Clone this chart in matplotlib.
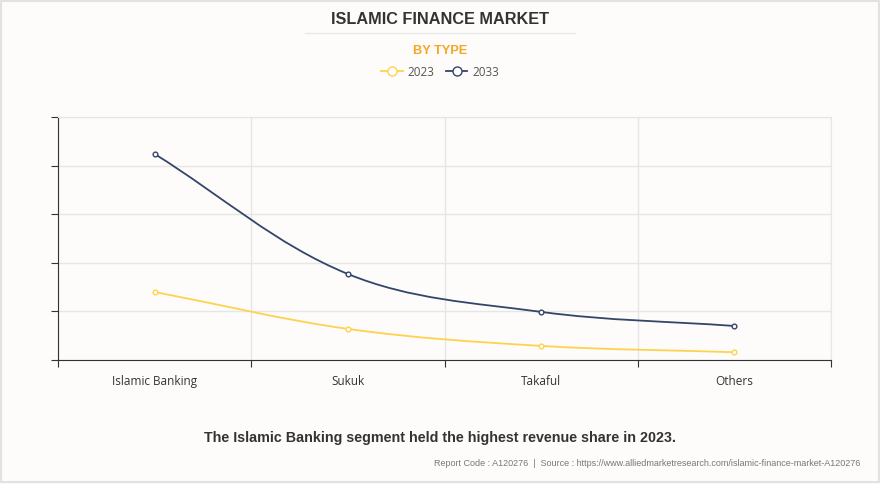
import numpy as np
import matplotlib.pyplot as plt
from matplotlib.path import Path
from matplotlib.patches import PathPatch, Rectangle
from matplotlib.lines import Line2D

categories = ["Islamic Banking", "Sukuk", "Takaful", "Others"]
values_2023 = [1.40, 0.64, 0.29, 0.16]
values_2033 = [4.24, 1.77, 0.99, 0.70]
series = [("2023", values_2023, "#fdd34e"), ("2033", values_2033, "#34456a")]

plt.rcParams["font.family"] = ["Open Sans", "DejaVu Sans"]

fig = plt.figure(figsize=(8.8, 4.84), dpi=100)
fig.patch.set_facecolor("#fdfcfb")
fig.patches.append(Rectangle((0.001, 0.004), 0.998, 0.994, transform=fig.transFigure,
                             fill=False, edgecolor="#e2e2e2", lw=1.5))

ax = fig.add_axes([58 / 880, 1 - 360 / 484, (831 - 58) / 880, (360 - 117) / 484])
ax.set_facecolor("#fdfcfb")
ax.set_xlim(-0.5, 3.5)
ax.set_ylim(0, 5)


def smooth_path(xs, ys, smooth=0.35):
    # bezier like echarts smooth lines, control points worked out in pixels
    pts = ax.transData.transform(np.column_stack([xs, ys]))
    n = len(pts)
    verts = [pts[0]]
    codes = [Path.MOVETO]
    cps = []
    for i in range(n):
        prev = pts[max(i - 1, 0)]
        nxt = pts[min(i + 1, n - 1)]
        cur = pts[i]
        v = (nxt - prev) * smooth
        d0 = np.hypot(*(cur - prev))
        d1 = np.hypot(*(nxt - cur))
        s = d0 + d1 if d0 + d1 > 0 else 1
        cps.append((cur - v * d0 / s, cur + v * d1 / s))
    for i in range(n - 1):
        verts += [cps[i][1], cps[i + 1][0], pts[i + 1]]
        codes += [Path.CURVE4] * 3
    verts = ax.transData.inverted().transform(np.array(verts))
    return Path(verts, codes)


x = np.arange(len(categories))
for label, vals, color in series:
    ax.add_patch(PathPatch(smooth_path(x, vals), fill=False, edgecolor=color, lw=1.3, zorder=3))
    ax.plot(x, vals, ls="none", marker="o", ms=3.4, mfc="white", mec=color, mew=1.0, zorder=4)

ax.set_xticks(np.arange(-0.5, 4, 1))
ax.set_xticklabels([])
ax.set_xticks(x, minor=True)
ax.set_xticklabels(categories, minor=True, fontsize=8.5, color="#333333")
ax.tick_params(axis="x", which="minor", length=0, pad=11)
ax.tick_params(axis="x", which="major", length=5, color="#333333", direction="out")
ax.set_yticks(np.arange(0, 6, 1))
ax.set_yticklabels([])
ax.tick_params(axis="y", length=5, color="#333333", direction="out")
ax.grid(True, which="major", color="#e6e6e6", lw=1)
ax.set_axisbelow(True)
for side in ["top", "right"]:
    ax.spines[side].set_color("#e6e6e6")
for side in ["left", "bottom"]:
    ax.spines[side].set_color("#333333")

fig.text(0.5, 1 - 19 / 484, "ISLAMIC FINANCE MARKET", ha="center", va="center",
         fontsize=11.7, fontweight="bold", color="#333333", family="Liberation Sans")
fig.add_artist(Line2D([305 / 880, 575 / 880], [1 - 33 / 484] * 2, color="#e8e8e8", lw=1))
fig.text(0.5, 1 - 51 / 484, "BY TYPE", ha="center", va="center",
         fontsize=9.2, fontweight="bold", color="#f5a623", family="Liberation Sans")

handles = [Line2D([], [], color=c, lw=1.3, marker="o", ms=6.5, mfc="white", mec=c, mew=1.0)
           for _, _, c in series]
fig.legend(handles, [s[0] for s in series], loc="center", bbox_to_anchor=(0.5, 1 - 72 / 484),
           ncol=2, frameon=False, handlelength=1.8, columnspacing=1.0, handletextpad=0.4,
           prop={"size": 8.5}, labelcolor="#555555")

fig.text(0.5, 1 - 438 / 484, "The Islamic Banking segment held the highest revenue share in 2023.",
         ha="center", va="center", fontsize=10.25, fontweight="bold", color="#333333",
         family="Liberation Sans")
fig.text(860 / 880, 1 - 463 / 484,
         "Report Code : A120276  |  Source : https://www.alliedmarketresearch.com/islamic-finance-market-A120276",
         ha="right", va="center", fontsize=6.5, color="#777777", family="Liberation Sans")

fig.savefig("out.png", dpi=100, facecolor=fig.get_facecolor())
